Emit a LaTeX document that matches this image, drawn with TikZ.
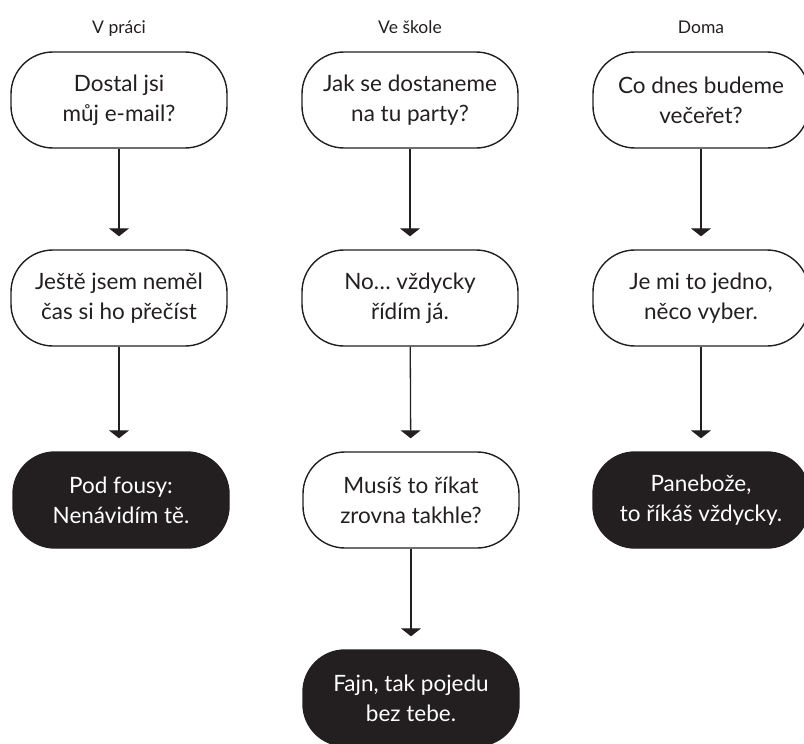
\documentclass[tikz,border=0pt]{standalone}
\usepackage{fontspec}
\setmainfont{Lato}
\usetikzlibrary{arrows.meta}
\definecolor{ink}{HTML}{231F20}
\begin{document}
\begin{tikzpicture}[x=1pt,y=-1pt,
  bubble/.style={draw=ink, line width=1.4pt, rounded corners=42pt,
    minimum width=216pt, minimum height=96pt, align=center, text=ink,
    font=\fontsize{22.5}{30}\selectfont, inner sep=0pt},
  answer/.style={bubble, fill=ink, text=white},
  head/.style={text=ink, font=\fontsize{17.5}{20}\selectfont, anchor=base},
  flow/.style={draw=ink, line width=1.3pt, -{Triangle[width=20pt,length=8pt]}, shorten >=13pt}]
\useasboundingbox (0,0) rectangle (804,744);

% column headings
\node[head] (h1) at (119,33) {V práci};
\node[head] (h2) at (410,33) {Ve škole};
\node[head] (h3) at (701,33) {Doma};

% at work
\node[bubble] (a1) at (119,100) {Dostal jsi\\můj e-mail?};
\node[bubble] (a2) at (119,298) {Ještě jsem neměl\\čas si ho přečíst};
\node[answer] (a3) at (121,500) {Pod fousy:\\Nenávidím tě.};

% at school
\node[bubble] (b1) at (410,100) {Jak se dostaneme\\na tu party?};
\node[bubble] (b2) at (410,298) {No… vždycky\\řídím já.};
\node[bubble] (b3) at (411,500) {Musíš to říkat\\zrovna takhle?};
\node[answer] (b4) at (411,698) {Fajn, tak pojedu\\bez tebe.};

% at home
\node[bubble] (c1) at (701,100) {Co dnes budeme\\večeřet?};
\node[bubble] (c2) at (701,298) {Je mi to jedno,\\něco vyber.};
\node[answer] (c3) at (701,500) {Panebože,\\to říkáš vždycky.};

\draw[flow] (a1) -- (a2);
\draw[flow] (a2) -- (a3.north -| a2.south);
\draw[flow] (b1) -- (b2);
\draw[flow] (b2) -- (b3);
\draw[flow] (b3) -- (b4);
\draw[flow] (c1) -- (c2);
\draw[flow] (c2) -- (c3);
\end{tikzpicture}
\end{document}
